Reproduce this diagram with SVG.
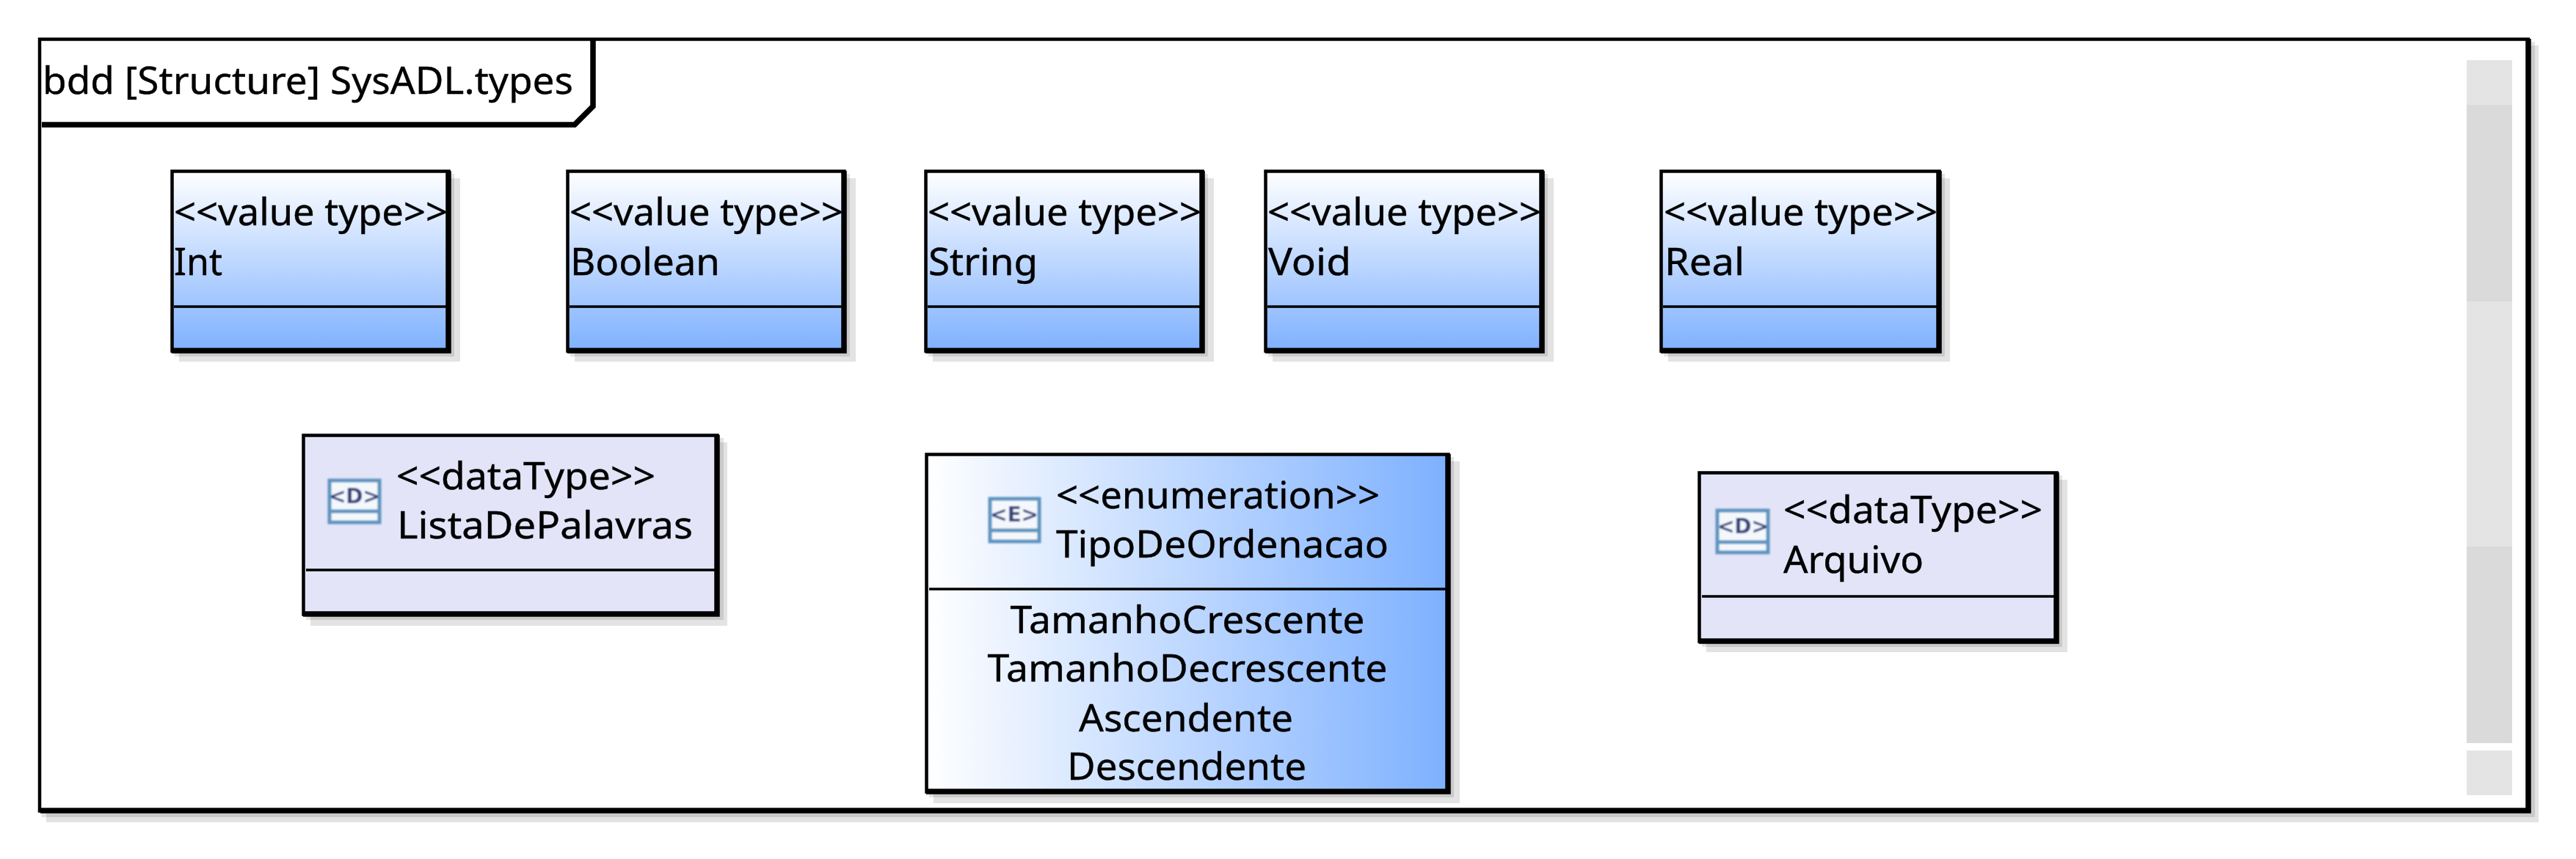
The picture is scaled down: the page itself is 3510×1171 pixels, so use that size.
<svg xmlns="http://www.w3.org/2000/svg" width="3510" height="1171" viewBox="0 0 3510 1171">
<style>
text{font-family:"Noto Sans","Open Sans","DejaVu Sans",sans-serif;font-size:51px;fill:#000;stroke:#000;stroke-width:.4}
.sh{fill:#000;fill-opacity:.11}
.bd{fill:none;stroke:#000;stroke-width:4.500}
.bt{fill:none;stroke:#000;stroke-width:7.500}
.dv{stroke:#000;stroke-width:3.500}
.vt{fill:url(#gv)}
.dt{fill:#e3e4f8}
.en{fill:url(#gh)}
.ic{fill:#f4f8fc;stroke:#5f94c0;stroke-width:5}
.il{stroke:#5f94c0;stroke-width:5}
text.ig{font-size:28px;font-weight:700;fill:#34427c;stroke:none;font-family:"DejaVu Sans",sans-serif}
.lt{fill:#e4e4e4}
.dk{fill:#dadada}
</style>
<defs>
<linearGradient id="gv" x1="0" y1="0" x2="0" y2="1"><stop offset="0" stop-color="#fff"/><stop offset="1" stop-color="#7db0ff"/></linearGradient>
<linearGradient id="gh" x1="0" y1="0" x2="1" y2="0"><stop offset="0" stop-color="#fff"/><stop offset="1" stop-color="#7db0ff"/></linearGradient>
<filter id="sf" x="-10%" y="-10%" width="120%" height="120%"><feGaussianBlur stdDeviation="0.9"/></filter>
</defs>
<rect width="3510" height="1171" fill="#fff"/>
<g id="frame">
<rect class="sh" x="57" y="57" width="3397" height="1057"/>
<rect class="sh" x="63" y="62" width="3396" height="1059"/>
<rect x="52" y="52" width="3396" height="1056" fill="#fff"/>
<rect class="bd" x="54" y="53.500" width="3391" height="1052"/>
<path class="bt" d="M3445 53V1105H55"/>
<path class="bt" d="M57 170H783L808 145V53"/>
<text x="58" y="128" textLength="723" lengthAdjust="spacingAndGlyphs">bdd [Structure] SysADL.types</text>
</g>
<g id="scrollbar">
<rect class="lt" x="3361" y="82" width="62" height="61"/>
<rect class="dk" x="3361" y="143" width="62" height="268"/>
<rect class="lt" x="3361" y="411" width="62" height="334"/>
<rect class="dk" x="3361" y="745" width="62" height="268"/>
<rect class="lt" x="3361" y="1023" width="62" height="61"/>
</g>
<g id="connectors"/>
<g id="int">
<rect class="sh" x="238" y="237" width="381" height="249"/><rect class="sh" x="244" y="243" width="383" height="250"/>
<rect class="vt" x="233" y="232" width="381" height="249"/>
<rect class="bd" x="234.500" y="233.500" width="377" height="245"/><path class="bt" d="M611 233V478H234"/>
<line class="dv" x1="237" y1="418" x2="609" y2="418"/>
<text x="237" y="307" textLength="373" lengthAdjust="spacingAndGlyphs">&lt;&lt;value type&gt;&gt;</text>
<text x="237" y="375" textLength="66" lengthAdjust="spacingAndGlyphs">Int</text>
</g>
<g id="boolean">
<rect class="sh" x="777" y="237" width="381" height="249"/><rect class="sh" x="783" y="243" width="383" height="250"/>
<rect class="vt" x="772" y="232" width="381" height="249"/>
<rect class="bd" x="773.500" y="233.500" width="377" height="245"/><path class="bt" d="M1150 233V478H773"/>
<line class="dv" x1="776" y1="418" x2="1148" y2="418"/>
<text x="776" y="307" textLength="373" lengthAdjust="spacingAndGlyphs">&lt;&lt;value type&gt;&gt;</text>
<text x="777" y="375" textLength="204" lengthAdjust="spacingAndGlyphs">Boolean</text>
</g>
<g id="string">
<rect class="sh" x="1265" y="237" width="381" height="249"/><rect class="sh" x="1271" y="243" width="383" height="250"/>
<rect class="vt" x="1260" y="232" width="381" height="249"/>
<rect class="bd" x="1261.500" y="233.500" width="377" height="245"/><path class="bt" d="M1638 233V478H1261"/>
<line class="dv" x1="1264" y1="418" x2="1636" y2="418"/>
<text x="1264" y="307" textLength="373" lengthAdjust="spacingAndGlyphs">&lt;&lt;value type&gt;&gt;</text>
<text x="1265" y="375" textLength="149" lengthAdjust="spacingAndGlyphs">String</text>
</g>
<g id="void">
<rect class="sh" x="1728" y="237" width="381" height="249"/><rect class="sh" x="1734" y="243" width="383" height="250"/>
<rect class="vt" x="1723" y="232" width="381" height="249"/>
<rect class="bd" x="1724.500" y="233.500" width="377" height="245"/><path class="bt" d="M2101 233V478H1724"/>
<line class="dv" x1="1727" y1="418" x2="2099" y2="418"/>
<text x="1727" y="307" textLength="373" lengthAdjust="spacingAndGlyphs">&lt;&lt;value type&gt;&gt;</text>
<text x="1728" y="375" textLength="113" lengthAdjust="spacingAndGlyphs">Void</text>
</g>
<g id="real">
<rect class="sh" x="2267" y="237" width="383" height="249"/><rect class="sh" x="2273" y="243" width="384" height="250"/>
<rect class="vt" x="2262" y="232" width="383" height="249"/>
<rect class="bd" x="2263.500" y="233.500" width="379" height="245"/><path class="bt" d="M2642 233V478H2263"/>
<line class="dv" x1="2266" y1="418" x2="2640" y2="418"/>
<text x="2267" y="307" textLength="373" lengthAdjust="spacingAndGlyphs">&lt;&lt;value type&gt;&gt;</text>
<text x="2268" y="375" textLength="109" lengthAdjust="spacingAndGlyphs">Real</text>
</g>
<g id="listaDePalavras">
<rect class="sh" x="417" y="597" width="569" height="248"/><rect class="sh" x="423" y="603" width="568" height="250"/>
<rect class="dt" x="412" y="592" width="568" height="248"/>
<rect class="bd" x="413.500" y="593.500" width="564" height="244"/><path class="bt" d="M977 593V837H413"/>
<line class="dv" x1="417" y1="777" x2="975" y2="777"/>
<g filter="url(#sf)"><rect class="ic" x="449" y="655" width="68" height="57"/><line class="il" x1="449" y1="697" x2="517" y2="697"/><text class="ig" x="483" y="686" text-anchor="middle">&lt;D&gt;</text></g>
<text x="540" y="667" textLength="353" lengthAdjust="spacingAndGlyphs">&lt;&lt;dataType&gt;&gt;</text>
<text x="541" y="734" textLength="403" lengthAdjust="spacingAndGlyphs">ListaDePalavras</text>
</g>
<g id="tipoDeOrdenacao">
<rect class="sh" x="1266" y="623" width="715" height="464"/><rect class="sh" x="1272" y="629" width="717" height="466"/>
<rect class="en" x="1261" y="618" width="715" height="464"/>
<rect class="bd" x="1262.500" y="619.500" width="711" height="460"/><path class="bt" d="M1973 619V1079H1262"/>
<line class="dv" x1="1266" y1="803" x2="1971" y2="803"/>
<g filter="url(#sf)"><rect class="ic" x="1349" y="680" width="67" height="58"/><line class="il" x1="1349" y1="723" x2="1416" y2="723"/><text class="ig" x="1382" y="711" text-anchor="middle">&lt;E&gt;</text></g>
<text x="1439" y="693" textLength="441" lengthAdjust="spacingAndGlyphs">&lt;&lt;enumeration&gt;&gt;</text>
<text x="1439" y="760" textLength="453" lengthAdjust="spacingAndGlyphs">TipoDeOrdenacao</text>
<text x="1618" y="863" text-anchor="middle" textLength="483" lengthAdjust="spacingAndGlyphs">TamanhoCrescente</text>
<text x="1618" y="929" text-anchor="middle" textLength="545" lengthAdjust="spacingAndGlyphs">TamanhoDecrescente</text>
<text x="1616" y="997" text-anchor="middle" textLength="292" lengthAdjust="spacingAndGlyphs">Ascendente</text>
<text x="1617" y="1063" text-anchor="middle" textLength="326" lengthAdjust="spacingAndGlyphs">Descendente</text>
</g>
<g id="arquivo">
<rect class="sh" x="2319" y="648" width="491" height="234"/><rect class="sh" x="2325" y="654" width="492" height="235"/>
<rect class="dt" x="2314" y="643" width="491" height="234"/>
<rect class="bd" x="2315.500" y="644.500" width="487" height="230"/><path class="bt" d="M2802 644V874H2315"/>
<line class="dv" x1="2319" y1="813" x2="2800" y2="813"/>
<g filter="url(#sf)"><rect class="ic" x="2340" y="696" width="69" height="57"/><line class="il" x1="2340" y1="739" x2="2409" y2="739"/><text class="ig" x="2375" y="727" text-anchor="middle">&lt;D&gt;</text></g>
<text x="2430" y="713" textLength="353" lengthAdjust="spacingAndGlyphs">&lt;&lt;dataType&gt;&gt;</text>
<text x="2430" y="781" textLength="191" lengthAdjust="spacingAndGlyphs">Arquivo</text>
</g>
</svg>
